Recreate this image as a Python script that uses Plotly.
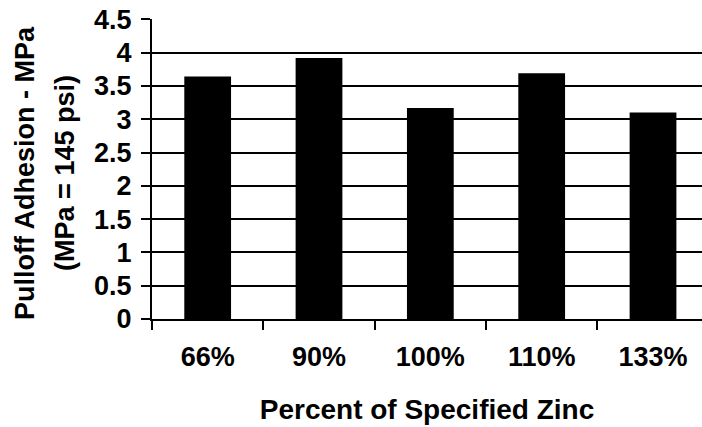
import plotly.graph_objects as go

categories = ["66%", "90%", "100%", "110%", "133%"]
adhesion_mpa = [3.64, 3.92, 3.17, 3.69, 3.10]
y_ticks = [0, 0.5, 1, 1.5, 2, 2.5, 3, 3.5, 4, 4.5]
y_tick_text = ["0", "0.5", "1", "1.5", "2", "2.5", "3", "3.5", "4", "4.5"]
x_title = "Percent of Specified Zinc"
y_title_1 = "Pulloff Adhesion - MPa"
y_title_2 = "(MPa = 145 psi)"

FONT = dict(family="Liberation Sans, Arial, sans-serif", color="black", weight="bold")

fig = go.Figure(go.Bar(x=categories, y=adhesion_mpa, marker=dict(color="black", line=dict(width=0))))

fig.update_layout(
    width=702, height=427,
    margin=dict(l=152, r=0, t=19, b=108),
    paper_bgcolor="white", plot_bgcolor="white",
    bargap=0.58, showlegend=False,
    font=FONT,
    xaxis=dict(
        type="category", range=[-0.5, 4.44],
        tickson="boundaries", ticks="outside", ticklen=9, tickwidth=1.5, tickcolor="black",
        showline=True, linecolor="black", linewidth=1.5, showgrid=False,
        tickfont=dict(size=27, **FONT), ticklabelstandoff=13,
        title=dict(text=x_title, font=dict(size=28, **FONT), standoff=28),
        automargin=False,
    ),
    yaxis=dict(
        range=[0, 4.505], tickvals=y_ticks, ticktext=y_tick_text,
        ticks="outside", ticklen=9, tickwidth=1.5, tickcolor="black",
        showline=True, linecolor="black", linewidth=2,
        showgrid=True, gridcolor="black", gridwidth=1.5, zeroline=False,
        tickfont=dict(size=27, **FONT), ticklabelstandoff=4,
        ticklabeloverflow="allow", automargin=False,
    ),
    annotations=[
        dict(text=y_title_1, xref="paper", yref="paper", x=(25 - 152) / 550, y=0.487,
             xanchor="center", yanchor="middle", textangle=-90, showarrow=False,
             font=dict(size=27, **FONT)),
        dict(text=y_title_2, xref="paper", yref="paper", x=(65 - 152) / 550, y=0.487,
             xanchor="center", yanchor="middle", textangle=-90, showarrow=False,
             font=dict(size=27, **FONT)),
    ],
)

fig.write_html(
    "out.html",
    config={"displayModeBar": False},
    post_script="document.body.style.margin='0';document.body.style.overflow='hidden';",
)
